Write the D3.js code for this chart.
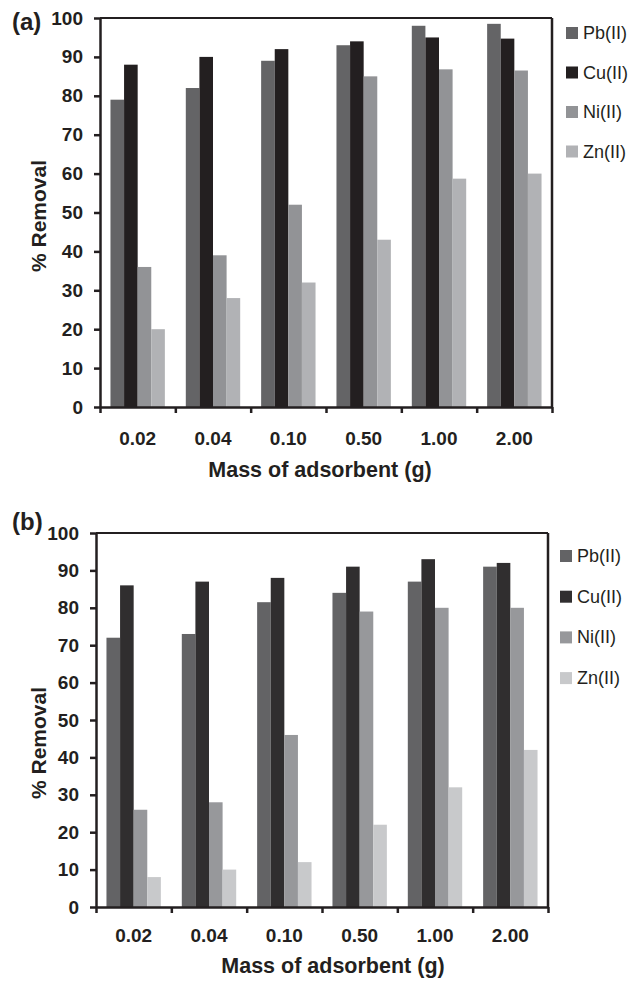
<!DOCTYPE html>
<html>
<head>
<meta charset="utf-8">
<script src="https://cdn.jsdelivr.net/npm/d3@7"></script>
<style>
    body { margin: 0; background: #fff; }
    svg { display: block; font-family: "Liberation Sans", Arial, sans-serif; }
</style>
</head>
<body>
<svg id="chart" width="638" height="981"></svg>
<script>
// DATA

const masses = ["0.02", "0.04", "0.10", "0.50", "1.00", "2.00"];
const ions = ["Pb(II)", "Cu(II)", "Ni(II)", "Zn(II)"];
const yTicks = [0, 10, 20, 30, 40, 50, 60, 70, 80, 90, 100];

// panel (a)
const pbA = [79, 82, 89, 93, 98, 98.5];
const cuA = [88, 90, 92, 94, 95, 94.7];
const niA = [36, 39, 52, 85, 86.8, 86.5];
const znA = [20, 28, 32, 43, 58.7, 60];

// panel (b)
const pbB = [72, 73, 81.5, 84, 87, 91];
const cuB = [86, 87, 88, 91, 93, 92];
const niB = [26, 28, 46, 79, 80, 80];
const znB = [8, 10, 12, 22, 32, 42];

const xTitle = "Mass of adsorbent (g)";
const yTitle = "% Removal";

////////////////////////////////////////////////////////////////////////////////

// LAYOUT

const ink = "#231f20";

const panels = [
    {
        tag: "(a)", series: [pbA, cuA, niA, znA],
        colors: ["#646466", "#231f20", "#929396", "#b1b2b5"],
        left: 100, right: 552, top: 18, bottom: 407,
        tagX: 12, tagY: 30,
        labelPad: 25, xTitleX: 320, xTitleY: 477,
        yTitleX: 46, yTitleY: 216,
        legendX: 566, legendY: 39, legendStep: 39.5
    },
    {
        tag: "(b)", series: [pbB, cuB, niB, znB],
        colors: ["#636365", "#302e2f", "#97989b", "#c8c9cb"],
        left: 96, right: 548, top: 533, bottom: 907,
        tagX: 12, tagY: 530,
        labelPad: 22, xTitleX: 333, xTitleY: 973,
        yTitleX: 46, yTitleY: 743,
        legendX: 560, legendY: 562, legendStep: 40.7
    }
];

const svg = d3.select("#chart");

panels.forEach(drawPanel);

function drawPanel(p) {
    const g = svg.append("g");

    // outer scale: one band per mass, inner scale: one bar per ion
    const x0 = d3.scaleBand()
        .domain(masses)
        .range([p.left, p.right])
        .paddingInner(0)
        .paddingOuter(0);

    const x1 = d3.scaleBand()
        .domain(ions)
        .range([0, x0.bandwidth()])
        .paddingInner(0)
        .paddingOuter(0.77);

    const y = d3.scaleLinear()
        .domain([0, 100])
        .range([p.bottom, p.top]);

    const color = d3.scaleOrdinal().domain(ions).range(p.colors);

    // bars
    const rows = masses.map((m, i) => ({
        mass: m,
        values: ions.map((ion, k) => ({ ion: ion, value: p.series[k][i] }))
    }));

    g.selectAll("g.group")
        .data(rows)
        .enter()
        .append("g")
        .attr("class", "group")
        .attr("transform", d => `translate(${x0(d.mass)},0)`)
        .selectAll("rect")
        .data(d => d.values)
        .enter()
        .append("rect")
        .attr("x", d => x1(d.ion))
        .attr("width", x1.bandwidth())
        .attr("y", d => y(d.value))
        .attr("height", d => y(0) - y(d.value))
        .attr("fill", d => color(d.ion));

    // frame on top and right
    g.append("line")
        .attr("x1", p.left).attr("x2", p.right)
        .attr("y1", p.top).attr("y2", p.top)
        .attr("stroke", ink).attr("stroke-width", 2);
    g.append("line")
        .attr("x1", p.right).attr("x2", p.right)
        .attr("y1", p.top).attr("y2", p.bottom)
        .attr("stroke", ink).attr("stroke-width", 2.5);

    // y axis
    const yAxis = g.append("g")
        .attr("transform", `translate(${p.left},0)`)
        .call(d3.axisLeft(y).tickValues(yTicks).tickSize(6).tickSizeOuter(0).tickPadding(11));

    // x axis: ticks on the band edges
    const xEdge = d3.scaleLinear().domain([0, masses.length]).range([p.left, p.right]);
    const xAxis = g.append("g")
        .attr("transform", `translate(0,${p.bottom})`)
        .call(d3.axisBottom(xEdge).tickValues(d3.range(masses.length + 1)).tickFormat("").tickSize(6).tickSizeOuter(0));

    // x labels centred on the bands
    const xLabels = g.append("g")
        .attr("transform", `translate(0,${p.bottom})`)
        .call(d3.axisBottom(x0).tickSize(0).tickPadding(p.labelPad));
    xLabels.select(".domain").remove();

    [yAxis, xAxis].forEach(a => {
        a.select(".domain").attr("stroke", ink).attr("stroke-width", 2.5);
        a.selectAll(".tick line").attr("stroke", ink).attr("stroke-width", 2.5);
    });

    [yAxis, xLabels].forEach(a => {
        a.selectAll("text")
            .attr("fill", ink)
            .style("font-family", "'Liberation Sans', Arial, sans-serif")
            .style("font-size", "19px")
            .style("font-weight", "bold");
    });

    // titles
    g.append("text")
        .attr("x", p.xTitleX)
        .attr("y", p.xTitleY)
        .attr("text-anchor", "middle")
        .attr("fill", ink)
        .style("font-size", "21.5px")
        .style("font-weight", "bold")
        .text(xTitle);

    g.append("text")
        .attr("transform", `translate(${p.yTitleX},${p.yTitleY}) rotate(-90)`)
        .attr("text-anchor", "middle")
        .attr("fill", ink)
        .style("font-size", "21px")
        .style("font-weight", "bold")
        .text(yTitle);

    g.append("text")
        .attr("x", p.tagX)
        .attr("y", p.tagY)
        .attr("fill", ink)
        .style("font-size", "24px")
        .style("font-weight", "bold")
        .text(p.tag);

    // legend
    const legend = g.selectAll("g.legend")
        .data(ions)
        .enter()
        .append("g")
        .attr("class", "legend")
        .attr("transform", (d, i) => `translate(${p.legendX},${p.legendY + i * p.legendStep})`);

    legend.append("rect")
        .attr("x", 0)
        .attr("y", -12)
        .attr("width", 12)
        .attr("height", 12)
        .attr("fill", d => color(d));

    legend.append("text")
        .attr("x", 17)
        .attr("y", 0)
        .attr("fill", ink)
        .style("font-size", "18px")
        .text(d => d);
}
</script>
</body>
</html>
